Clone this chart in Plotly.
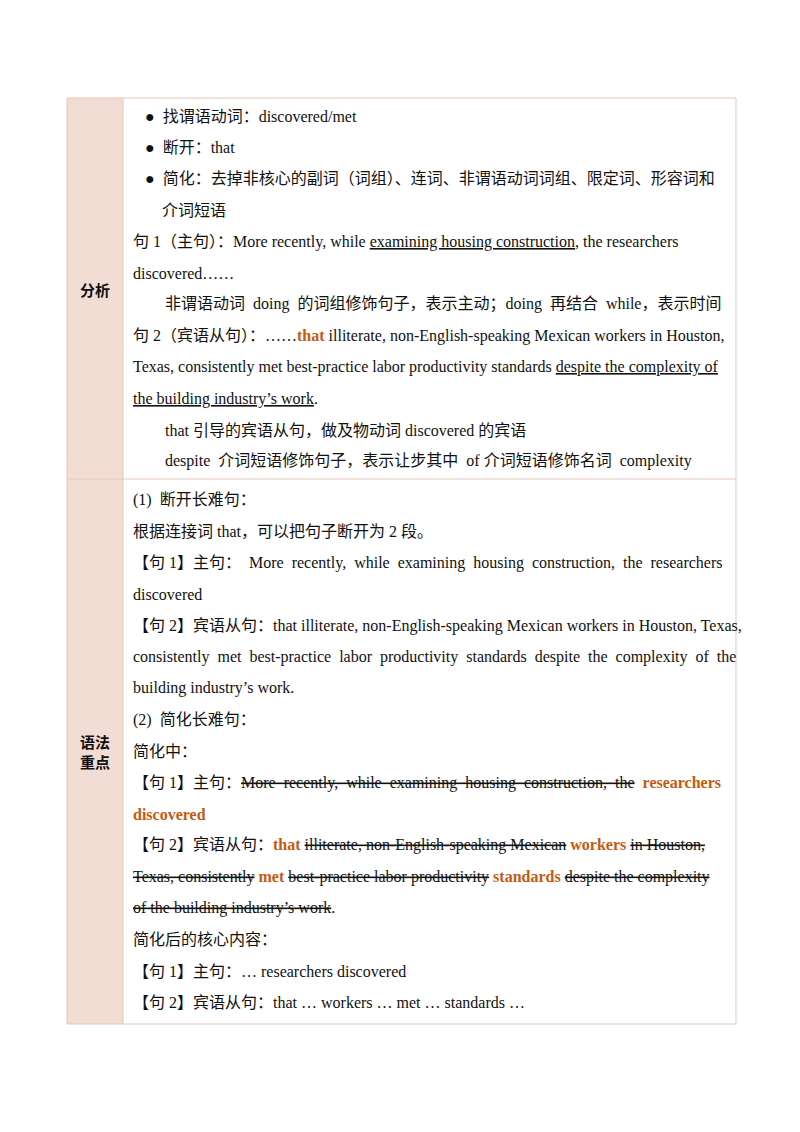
import plotly.graph_objects as go

# table content: (indent level, rich text)
OR = "color:#c55a11"
analysis_label = "分析"
analysis_lines = [
    (1, "●  找谓语动词：discovered/met"),
    (1, "●  断开：that"),
    (1, "●  简化：去掉非核心的副词（词组）、连词、非谓语动词词组、限定词、形容词和"),
    (2, "介词短语"),
    (0, "句 1（主句）：More recently, while <u>examining housing construction</u>, the researchers"),
    (0, "discovered……"),
    (3, "非谓语动词  doing  的词组修饰句子，表示主动；doing  再结合  while，表示时间"),
    (0, f"句 2（宾语从句）：……<b><span style='{OR}'>that</span></b> illiterate, non-English-speaking Mexican workers in Houston,"),
    (0, "Texas, consistently met best-practice labor productivity standards <u>despite the complexity of</u>"),
    (0, "<u>the building industry’s work</u>."),
    (3, "that 引导的宾语从句，做及物动词 discovered 的宾语"),
    (3, "despite  介词短语修饰句子，表示让步其中  of 介词短语修饰名词  complexity"),
]
grammar_label = "语法<br>重点"
grammar_lines = [
    (0, "(1)  断开长难句："),
    (0, "根据连接词 that，可以把句子断开为 2 段。"),
    (0, "【句 1】主句：  More  recently,  while  examining  housing  construction,  the  researchers"),
    (0, "discovered"),
    (0, "【句 2】宾语从句：that illiterate, non-English-speaking Mexican workers in Houston, Texas,"),
    (0, "consistently  met  best-practice  labor  productivity  standards  despite  the  complexity  of  the"),
    (0, "building industry’s work."),
    (0, "(2)  简化长难句："),
    (0, "简化中："),
    (0, f"【句 1】主句：<s>More  recently,  while  examining  housing  construction,  the</s>  <b><span style='{OR}'>researchers</span></b>"),
    (0, f"<b><span style='{OR}'>discovered</span></b>"),
    (0, f"【句 2】宾语从句：<b><span style='{OR}'>that</span></b> <s>illiterate, non-English-speaking Mexican</s> <b><span style='{OR}'>workers</span></b> <s>in Houston,</s>"),
    (0, f"<s>Texas, consistently</s> <b><span style='{OR}'>met</span></b> <s>best-practice labor productivity</s> <b><span style='{OR}'>standards</span></b> <s>despite the complexity</s>"),
    (0, "<s>of the building industry’s work</s>."),
    (0, "简化后的核心内容："),
    (0, "【句 1】主句：… researchers discovered"),
    (0, "【句 2】宾语从句：that … workers … met … standards …"),
]

FONT = "Liberation Serif, Noto Sans CJK SC, serif"
LINE_H = 31.4
X0, XD, X1 = 66, 122, 735
Y0, YM, Y1 = 97, 478, 1023
INDENT = {0: 130, 1: 142, 2: 159, 3: 162}
BORDER = "#e6c7b9"
OFF = 7  # page body offset

fig = go.Figure()
shapes = [
    dict(type="rect", x0=X0, x1=XD, y0=Y0, y1=Y1, fillcolor="#f2ddd4", line_width=0, layer="below"),
    dict(type="rect", x0=X0, x1=X1, y0=Y0, y1=Y1, line=dict(color=BORDER, width=1)),
    dict(type="line", x0=XD, x1=XD, y0=Y0, y1=Y1, line=dict(color=BORDER, width=1)),
    dict(type="line", x0=X0, x1=X1, y0=YM, y1=YM, line=dict(color=BORDER, width=1)),
]

annotations = []


def add_block(lines, y_first):
    for i, (lvl, txt) in enumerate(lines):
        annotations.append(dict(
            x=INDENT[lvl], y=y_first + i * LINE_H, text=txt, showarrow=False,
            xanchor="left", yanchor="middle", align="left",
            font=dict(family=FONT, size=16, color="#111111"),
        ))


add_block(analysis_lines, 115)
add_block(grammar_lines, 499)
for label, yc in [(analysis_label, 288), (grammar_label, 750)]:
    annotations.append(dict(
        x=(X0 + XD) / 2, y=yc, text=f"<b>{label}</b>", showarrow=False,
        xanchor="center", yanchor="middle",
        font=dict(family="Noto Sans CJK SC", size=15, color="#111111"),
    ))

fig.update_layout(
    width=800, height=1132,
    margin=dict(l=0, r=0, t=0, b=0),
    plot_bgcolor="white", paper_bgcolor="white",
    xaxis=dict(range=[OFF, 800 + OFF], visible=False, fixedrange=True),
    yaxis=dict(range=[1132 + OFF, OFF], visible=False, fixedrange=True),
    shapes=shapes, annotations=annotations, showlegend=False,
)
fig.write_html("out.html")
